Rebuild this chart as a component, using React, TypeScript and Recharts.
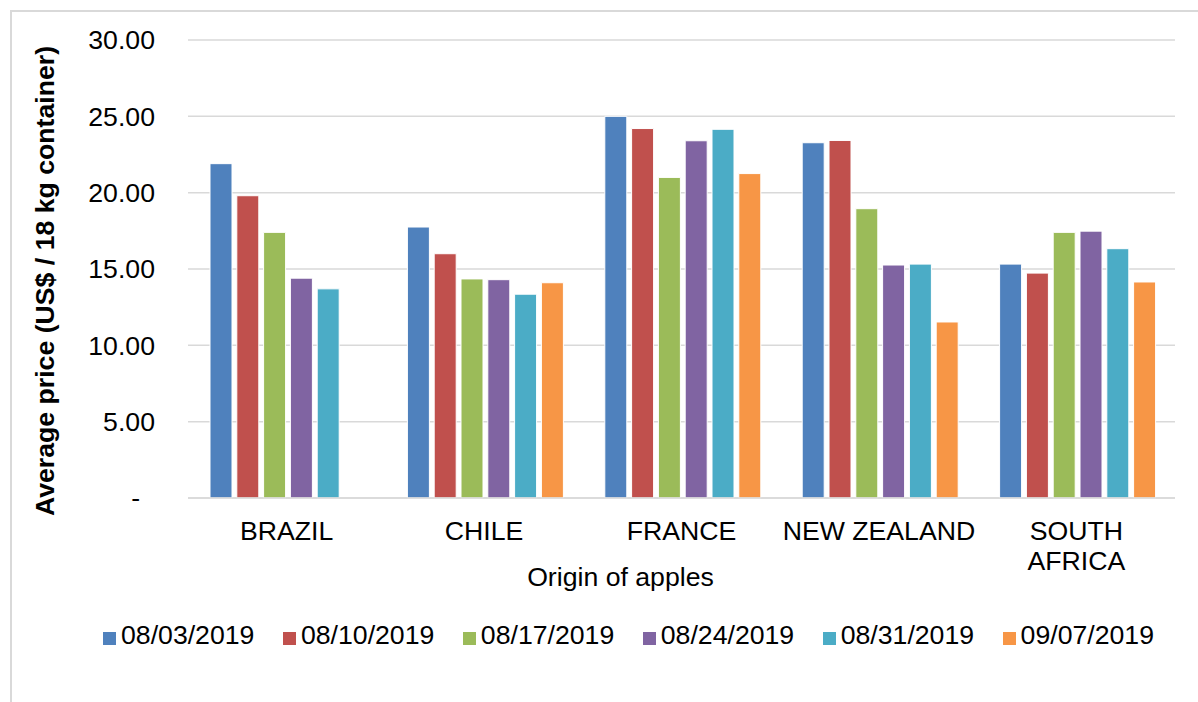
import { BarChart, Bar, XAxis, YAxis, CartesianGrid, Legend, Label } from "recharts";

const ORIGINS = ["BRAZIL", "CHILE", "FRANCE", "NEW ZEALAND", "SOUTH AFRICA"];
const WEEKS = ["08/03/2019", "08/10/2019", "08/17/2019", "08/24/2019", "08/31/2019", "09/07/2019"];

const W0803 = [21.9, 17.75, 25.0, 23.27, 15.32];
const W0810 = [19.8, 16.0, 24.2, 23.42, 14.73];
const W0817 = [17.4, 14.35, 21.0, 18.95, 17.4];
const W0824 = [14.4, 14.3, 23.4, 15.26, 17.48];
const W0831 = [13.7, 13.35, 24.15, 15.32, 16.33];
const W0907 = [null, 14.1, 21.25, 11.53, 14.15];

const Y_TICKS = [0, 5, 10, 15, 20, 25, 30];

const SERIES = [W0803, W0810, W0817, W0824, W0831, W0907];
const COLORS = ["#4f81bd", "#c0504d", "#9bbb59", "#8064a2", "#4bacc6", "#f79646"];

const FONT = "'Liberation Sans', Arial, sans-serif";
const FS = 26.67;

const data = ORIGINS.map((origin, i) => {
  const row: Record<string, string | number | null> = { origin };
  WEEKS.forEach((w, s) => { row[w] = SERIES[s][i]; });
  return row;
});

function OriginTick({ x, y, payload }: any) {
  // Excel wraps the long label onto two lines
  const lines = payload.value.length > 11 ? payload.value.split(" ") : [payload.value];
  return (
    <text x={x} y={y} textAnchor="middle" fill="#000" fontSize={FS} fontFamily={FONT}>
      {lines.map((l: string, i: number) => (
        <tspan key={i} x={x} dy={i === 0 ? "0.71em" : "1.12em"}>{l}</tspan>
      ))}
    </text>
  );
}

function YTitle({ viewBox }: any) {
  const cx = 45;
  const cy = viewBox.y + viewBox.height / 2 + 12;
  return (
    <text
      x={cx} y={cy} transform={`rotate(-90, ${cx}, ${cy})`}
      textAnchor="middle" dominantBaseline="central"
      fontSize={FS} fontWeight="bold" fontFamily={FONT} fill="#000"
    >
      Average price (US$ / 18 kg container)
    </text>
  );
}

function WeekLegend() {
  return (
    <div style={{ display: "flex", fontFamily: FONT, fontSize: FS, lineHeight: 1, color: "#000" }}>
      {WEEKS.map((w, i) => (
        <div key={w} style={{ display: "flex", alignItems: "flex-end", marginRight: 28.5 }}>
          <span style={{ width: 13, height: 13, background: COLORS[i], marginRight: 5, marginBottom: 4 }} />
          <span>{w}</span>
        </div>
      ))}
    </div>
  );
}

export default function App() {
  return (
    <div style={{ position: "absolute", left: 0, top: 0, width: 1198, height: 702, overflow: "hidden", background: "#fff" }}>
      <div style={{ position: "absolute", left: 10, top: 10, width: 1300, height: 800, border: "2px solid #d9d9d9" }} />
      <BarChart
        width={1198}
        height={702}
        data={data}
        margin={{ top: 40, right: 23, left: 0, bottom: 0 }}
        barCategoryGap={22}
        barGap={4.8}
        style={{ position: "absolute", left: 0, top: 0 }}
      >
        <CartesianGrid vertical={false} stroke="#d9d9d9" strokeWidth={1.5} />
        <XAxis
          dataKey="origin"
          height={204}
          tickLine={false}
          tickSize={0}
          tickMargin={23}
          axisLine={{ stroke: "#d9d9d9", strokeWidth: 1.5 }}
          tick={<OriginTick />}
          interval={0}
        >
          <Label
            value="Origin of apples"
            position="insideTop"
            offset={69}
            dx={-61}
            fontSize={FS}
            fontFamily={FONT}
            fill="#000"
          />
        </XAxis>
        <YAxis
          width={188}
          domain={[0, 30]}
          ticks={Y_TICKS}
          tickLine={false}
          axisLine={false}
          tickSize={0}
          tickMargin={33}
          tick={{ fill: "#000", fontSize: FS, fontFamily: FONT }}
          tickFormatter={(v: number) => (v === 0 ? "-\u00a0\u00a0" : v.toFixed(2))}
        >
          <Label content={<YTitle />} />
        </YAxis>
        <Legend
          layout="horizontal"
          verticalAlign="middle"
          align="center"
          wrapperStyle={{ top: 622, left: 103, width: 1090 }}
          content={<WeekLegend />}
        />
        {WEEKS.map((w, i) => (
          <Bar key={w} dataKey={w} fill={COLORS[i]} stroke="#fff" strokeWidth={1} isAnimationActive={false} />
        ))}
      </BarChart>
    </div>
  );
}
